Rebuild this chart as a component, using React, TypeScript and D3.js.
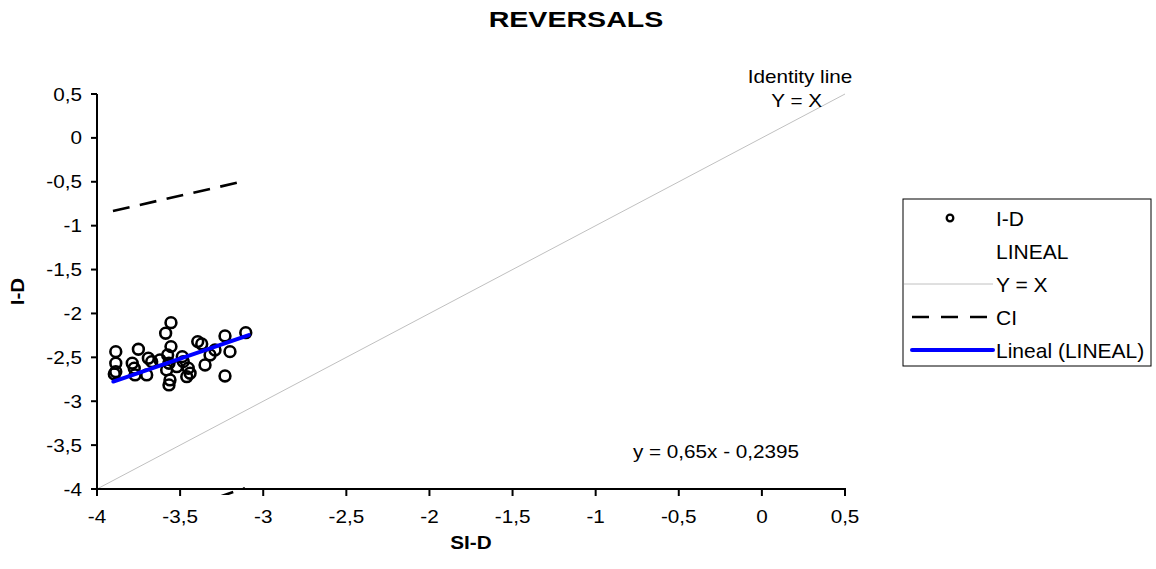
import React from "react";
import * as d3 from "d3";

// Data
const pointsX = [-3.555, -3.587, -3.887, -3.751, -3.555, -3.394, -3.370, -3.230, -3.105, -3.200, -3.290, -3.350, -3.230, -3.887, -3.887, -3.896, -3.788, -3.776, -3.691, -3.671, -3.701, -3.575, -3.567, -3.581, -3.561, -3.567, -3.487, -3.481, -3.451, -3.460, -3.440, -3.520, -3.771, -3.320, -3.621];
const pointsY = [-2.105, -2.225, -2.435, -2.408, -2.378, -2.321, -2.347, -2.256, -2.219, -2.435, -2.416, -2.587, -2.712, -2.567, -2.663, -2.689, -2.567, -2.624, -2.510, -2.549, -2.700, -2.473, -2.567, -2.643, -2.757, -2.814, -2.492, -2.549, -2.624, -2.720, -2.681, -2.606, -2.700, -2.473, -2.530];
const fitX = [-3.902, -3.087];
const fitSlope = 0.65;
const fitIntercept = -0.2395;
const ciX = [-3.904, -3.11];
const ciUpper = [-0.833, -0.491];
const ciLower = [-4.50, -3.99];
const identity = [-4, 0.5];
const xTicks = [-4, -3.5, -3, -2.5, -2, -1.5, -1, -0.5, 0, 0.5];
const yTicks = [-4, -3.5, -3, -2.5, -2, -1.5, -1, -0.5, 0, 0.5];
const legendItems = ["I-D", "LINEAL", "Y = X", "CI", "Lineal (LINEAL)"];

const FONT = "Liberation Sans, Arial, sans-serif";

type TProps = {
  x: number; y: number; size: number; sx?: number; anchor?: "start" | "middle" | "end";
  bold?: boolean; rotate?: number; children: React.ReactNode;
};
function T({ x, y, size, sx = 1, anchor = "start", bold = false, rotate = 0, children }: TProps) {
  return (
    <g transform={`translate(${x},${y}) rotate(${rotate}) scale(${sx},1)`}>
      <text x={0} y={0} textAnchor={anchor} fontSize={size} fontWeight={bold ? "bold" : "normal"} fill="#000">
        {children}
      </text>
    </g>
  );
}

export default function App() {
  const x = d3.scaleLinear().domain([-4, 0.5]).range([97, 845]);
  const y = d3.scaleLinear().domain([-4, 0.5]).range([489, 94]);
  const loc = d3.formatLocale({ decimal: ",", thousands: ".", grouping: [3], currency: ["", ""], minus: "-" });
  const fmt = loc.format("");
  const line = d3.line<[number, number]>().x((d) => x(d[0])).y((d) => y(d[1]));

  const fitPts: [number, number][] = fitX.map((v) => [v, fitSlope * v + fitIntercept]);
  const upPts: [number, number][] = ciX.map((v, i) => [v, ciUpper[i]]);
  const loPts: [number, number][] = ciX.map((v, i) => [v, ciLower[i]]);
  const idPts: [number, number][] = identity.map((v) => [v, v]);

  const legX = 903, legY = 199, legW = 248, legH = 167;
  const rowY = (i: number) => 218 + i * 33;

  return (
    <svg width={1156} height={569} style={{ display: "block", position: "absolute", left: 0, top: 0 }} fontFamily={FONT}>
      <defs>
        <clipPath id="plotclip">
          <rect x={97} y={90} width={750} height={405} />
        </clipPath>
      </defs>
      <rect x={0} y={0} width={1156} height={569} fill="#fff" />
      <T x={576} y={27} size={22} sx={1.3} anchor="middle" bold>REVERSALS</T>

      {/* identity line */}
      <path d={line(idPts) || ""} stroke="#c0c0c0" strokeWidth={1} fill="none" />

      {/* CI lines */}
      <g clipPath="url(#plotclip)">
        <path d={line(upPts) || ""} stroke="#000" strokeWidth={2.6} strokeDasharray="17,10.5" fill="none" />
        <path d={line(loPts) || ""} stroke="#000" strokeWidth={2.6} strokeDasharray="17,10.5" fill="none" />
      </g>

      {/* points */}
      {pointsX.map((px, i) => (
        <circle key={i} cx={x(px)} cy={y(pointsY[i])} r={5.4} fill="none" stroke="#000" strokeWidth={2.6} />
      ))}

      {/* fit line */}
      <path d={line(fitPts) || ""} stroke="#0000ff" strokeWidth={4} fill="none" strokeLinecap="round" />

      {/* axes */}
      <line x1={97} y1={94} x2={97} y2={490} stroke="#000" strokeWidth={2} />
      <line x1={96} y1={489} x2={846} y2={489} stroke="#000" strokeWidth={2} />
      {yTicks.map((t) => (
        <g key={"y" + t}>
          <line x1={91} x2={97} y1={y(t)} y2={y(t)} stroke="#000" strokeWidth={2} />
          <T x={82} y={y(t) + 6.5} size={18} sx={1.15} anchor="end">{fmt(t)}</T>
        </g>
      ))}
      {xTicks.map((t) => (
        <g key={"x" + t}>
          <line x1={x(t)} x2={x(t)} y1={489} y2={496} stroke="#000" strokeWidth={2} />
          <T x={x(t)} y={523} size={18} sx={1.15} anchor="middle">{fmt(t)}</T>
        </g>
      ))}
      <T x={471} y={549} size={18} sx={1.15} anchor="middle" bold>SI-D</T>
      <T x={24} y={(94 + 489) / 2} size={18} sx={1.15} anchor="middle" bold rotate={-90}>I-D</T>

      {/* annotations */}
      <T x={800} y={83} size={18} sx={1.15} anchor="middle">Identity line</T>
      <T x={822} y={107} size={18} sx={1.15} anchor="end">Y = X</T>
      <T x={716} y={458} size={18} sx={1.15} anchor="middle">y = 0,65x - 0,2395</T>

      {/* legend */}
      <rect x={legX} y={legY} width={legW} height={legH} fill="#fff" stroke="#000" strokeWidth={1} />
      <circle cx={950} cy={rowY(0)} r={3.3} fill="none" stroke="#000" strokeWidth={2.3} />
      <line x1={904} x2={993} y1={rowY(2)} y2={rowY(2)} stroke="#c0c0c0" strokeWidth={1} />
      <line x1={912} x2={993} y1={rowY(3)} y2={rowY(3)} stroke="#000" strokeWidth={2.6} strokeDasharray="17,12" />
      <line x1={912} x2={993} y1={rowY(4)} y2={rowY(4)} stroke="#0000ff" strokeWidth={4} strokeLinecap="round" />
      {legendItems.map((s, i) => (
        <T key={s} x={996} y={rowY(i) + 7.5} size={21}>{s}</T>
      ))}
    </svg>
  );
}
